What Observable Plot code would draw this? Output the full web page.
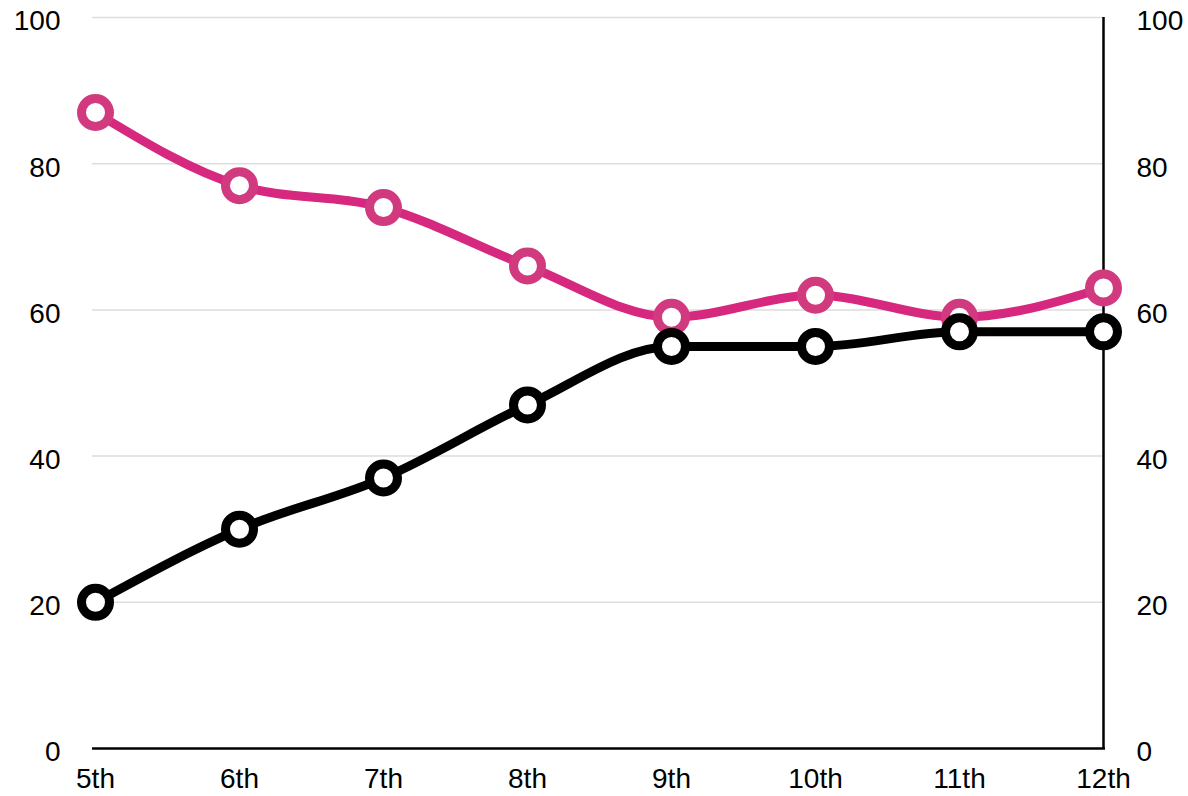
<!DOCTYPE html>
<html>
<head>
<meta charset="utf-8">
<script src="https://cdn.jsdelivr.net/npm/d3@7"></script>
<script src="https://cdn.jsdelivr.net/npm/@observablehq/plot@0.6"></script>
<style>
  html, body { margin: 0; padding: 0; background: #fff; }
  #chart svg { display: block; }
</style>
</head>
<body>
<div id="chart"></div>
<script>
const grades = ["5th", "6th", "7th", "8th", "9th", "10th", "11th", "12th"];
const pinkValues = [87, 77, 74, 66, 59, 62, 59, 63];
const blackValues = [20, 30, 37, 47, 55, 55, 57, 57];
const yTicks = [0, 20, 40, 60, 80, 100];

const pink = grades.map((g, i) => ({grade: g, value: pinkValues[i]}));
const black = grades.map((g, i) => ({grade: g, value: blackValues[i]}));

const PINK = "#d6287f";
const PINK_DOT = "#d23a80";
const FONT = 28;

const chart = Plot.plot({
  width: 1188,
  height: 796,
  marginLeft: 92,
  marginRight: 83,
  marginTop: 17,
  marginBottom: 48,
  style: {fontFamily: "Liberation Sans, Arial, Helvetica, sans-serif", fontSize: FONT + "px", color: "#000", background: "#fff"},
  x: {type: "point", domain: grades, padding: 0, label: null},
  y: {domain: [0, 100], label: null},
  marks: [
    Plot.ruleY(yTicks.filter(d => d > 0), {stroke: "#dddddd", strokeWidth: 1.5}),
    Plot.axisY(yTicks, {anchor: "left", tickSize: 0, tickPadding: 32, fontSize: FONT, dy: 4, label: null}),
    Plot.axisY(yTicks, {anchor: "right", tickSize: 0, tickPadding: 31, fontSize: FONT, dy: 4, label: null}),
    Plot.axisX(grades, {tickSize: 0, tickPadding: 20, fontSize: FONT, label: null}),
    Plot.ruleY([0], {stroke: "#000", strokeWidth: 2.5}),
    Plot.ruleX(["12th"], {y1: 0, y2: 100, stroke: "#000", strokeWidth: 2.5}),
    Plot.lineY(pink, {x: "grade", y: "value", stroke: PINK, strokeWidth: 9, curve: "monotone-x"}),
    Plot.lineY(black, {x: "grade", y: "value", stroke: "#000", strokeWidth: 9, curve: "monotone-x"}),
    Plot.dot(pink, {x: "grade", y: "value", r: 14, fill: "#fff", stroke: PINK_DOT, strokeWidth: 9}),
    Plot.dot(black, {x: "grade", y: "value", r: 14, fill: "#fff", stroke: "#000", strokeWidth: 9})
  ]
});
document.getElementById("chart").appendChild(chart);
</script>
</body>
</html>
